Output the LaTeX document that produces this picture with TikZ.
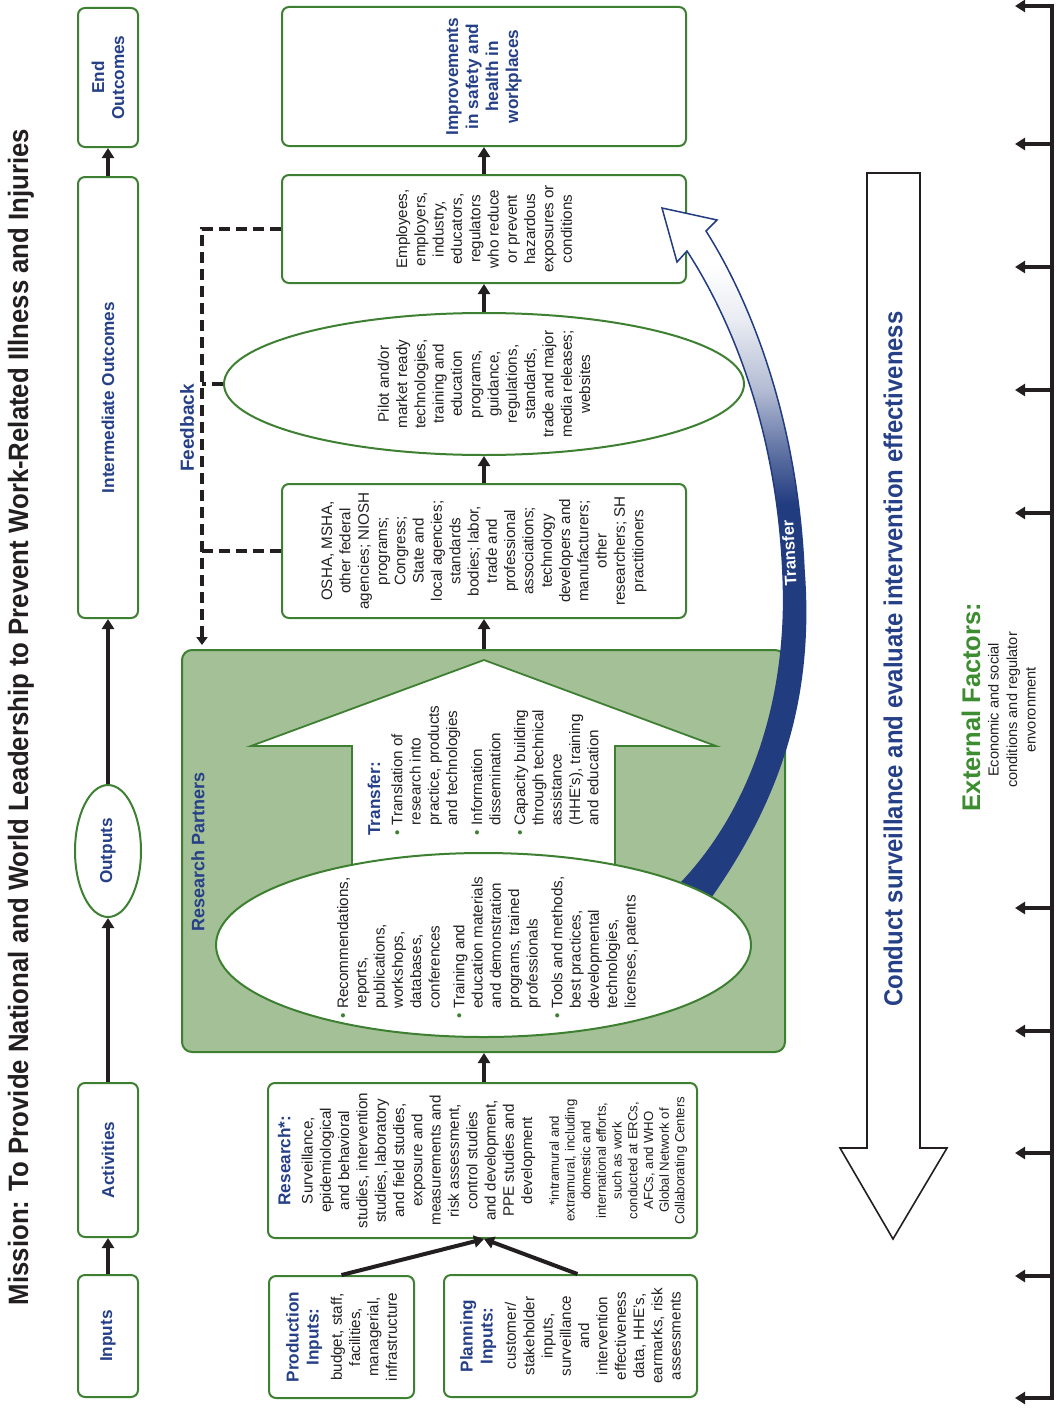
\documentclass[tikz,border=0pt]{standalone}
\usepackage{fontspec}
\setmainfont{Liberation Sans}
\newfontfamily\condfont[FakeStretch=0.92]{Liberation Sans}
\usepackage{graphicx}
\usetikzlibrary{arrows.meta,shapes.geometric}
\definecolor{navy}{RGB}{38,64,136}
\definecolor{bgreen}{RGB}{62,128,50}
\definecolor{rpfill}{RGB}{164,192,150}
\definecolor{extgreen}{RGB}{60,140,48}
\definecolor{ink}{RGB}{35,31,32}
\definecolor{arrowblue}{RGB}{34,60,128}
\colorlet{abA}{arrowblue!70!white}
\colorlet{abB}{arrowblue!35!white}
\colorlet{abC}{arrowblue!10!white}
\newcommand{\bodyf}{\fontsize{15.2}{18.3}\selectfont\mdseries\color{ink}}
\newcommand{\headf}{\fontsize{17.2}{20}\selectfont\bfseries\color{navy}}
\newcommand{\footf}{\fontsize{13.2}{15.7}\selectfont\mdseries\color{ink}}
\newcommand{\vtext}[2]{\rotatebox{90}{\parbox{#1}{\centering #2}}}
\newcommand{\bul}{{\color{bgreen}\textbullet}}
\pgfdeclareverticalshading{transfershade}{100bp}{color(0bp)=(arrowblue); color(54bp)=(arrowblue); color(58bp)=(abA); color(62bp)=(abB); color(67bp)=(abC); color(71bp)=(white); color(100bp)=(white)}
\begin{document}
\begin{tikzpicture}[x=1pt, y=-1pt,
 box/.style={draw=bgreen, line width=2pt, rounded corners=7pt, fill=white, inner sep=0pt},
 ell/.style={ellipse, draw=bgreen, line width=2pt, fill=white, inner sep=0pt},
 flow/.style={line width=4pt, draw=ink, -{Triangle[length=10pt,width=12pt]}},
 fb/.style={line width=3.5pt, draw=ink, dash pattern=on 11pt off 6pt},
 tickarrow/.style={line width=4pt, draw=ink, -{Triangle[length=10pt,width=12pt]}},
 lbl/.style={rotate=90, inner sep=0pt, text=navy, font=\bfseries\fontsize{18}{21}\selectfont},
]
\useasboundingbox (0,0) rectangle (1057,1410);
\fill[white] (0,0) rectangle (1057,1410);

% title
\node[rotate=90, inner sep=0pt, text=ink, font=\condfont\bfseries\fontsize{28}{30}\selectfont] (title) at (21,717)
 {Mission: To Provide National and World Leadership to Prevent Work-Related Illness and Injuries};

% left column
\node[box, minimum width=60pt, minimum height=122pt] (inputs) at (108,1336) {\vtext{110pt}{\headf Inputs}};
\node[box, minimum width=60pt, minimum height=154pt] (activities) at (108,1160) {\vtext{130pt}{\headf Activities}};
\node[ell, minimum width=66pt, minimum height=132pt] (outputs) at (108,851) {\vtext{66pt}{\headf Outputs}};
\node[box, minimum width=60pt, minimum height=441pt] (inter) at (108,397.5) {\vtext{300pt}{\headf Intermediate Outcomes}};
\node[box, minimum width=60pt, minimum height=139pt] (endout) at (108,77.5) {\vtext{120pt}{\headf End\\Outcomes}};
\draw[flow] (inputs.north) -- (activities.south);
\draw[flow] (activities.north) -- (outputs.south);
\draw[flow] (outputs.north) -- (inter.south);
\draw[flow] (inter.north) -- (endout.south);

% input boxes
\node[box, minimum width=145pt, minimum height=122pt] (prod) at (341.5,1337)
 {\vtext{115pt}{\headf Production\\Inputs:\par\vspace{5pt}\bodyf budget, staff,\\facilities,\\managerial,\\infrastructure}};
\node[box, minimum width=253pt, minimum height=122pt] (plan) at (570.5,1336)
 {\vtext{115pt}{\headf Planning\\Inputs:\par\vspace{5pt}\bodyf customer/\\stakeholder\\inputs,\\surveillance\\and\\intervention\\effectiveness\\data, HHE’s,\\earmarks, risk\\assessments}};
\node[box, minimum width=429pt, minimum height=155pt] (research) at (482.5,1160.5)
 {\vtext{150pt}{\headf Research*:\par\vspace{4pt}\bodyf Surveillance,\\epidemiological\\and behavioral\\studies, intervention\\studies, laboratory\\and field studies,\\exposure and\\measurements and\\risk assessment,\\control studies\\and development,\\PPE studies and\\development\par\vspace{11pt}\footf *intramural and\\extramural, including\\domestic and\\international efforts,\\such as work\\conducted at ERCs,\\AFCs, and WHO\\Global Network of\\Collaborating Centers}};
\coordinate (pjoin) at ([xshift=1.5pt]research.south);
\draw[flow] (prod.north) -- (pjoin);
\draw[flow] ([xshift=7pt]plan.north) -- (pjoin);

% upper boxes
\node[box, minimum width=404pt, minimum height=139pt] (impr) at (484,76.5)
 {\vtext{125pt}{\headf Improvements\\in safety and\\health in\\workplaces}};
\node[box, minimum width=404pt, minimum height=108pt] (emp) at (484,229)
 {\vtext{105pt}{\bodyf Employees,\\employers,\\industry,\\educators,\\regulators\\who reduce\\or prevent\\hazardous\\exposures or\\conditions}};
\node[ell, minimum width=520pt, minimum height=142pt] (pilot) at (484,384) {};
\node[inner sep=0pt] (pilotT) at (pilot.center)
 {\vtext{125pt}{\bodyf Pilot and/or\\market ready\\technologies,\\training and\\education\\programs,\\guidance,\\regulations,\\standards,\\trade and major\\media releases;\\websites}};
\node[box, minimum width=404pt, minimum height=134pt] (osha) at (484,551)
 {\vtext{130pt}{\bodyf OSHA, MSHA,\\other federal\\agencies; NIOSH\\programs;\\Congress;\\State and\\local agencies;\\standards\\bodies; labor,\\trade and\\professional\\associations;\\technology\\developers and\\manufacturers;\\other\\researchers; SH\\practitioners}};
\draw[flow] (osha.north) -- (pilot.south);
\draw[flow] (pilot.north) -- (emp.south);
\draw[flow] (emp.north) -- (impr.south);

% research partners region
\node[draw=bgreen, line width=2pt, fill=rpfill, rounded corners=10pt, minimum width=603pt, minimum height=402pt, inner sep=0pt] (rp) at (483.5,851) {};
\node[lbl] (rpT) at (198,852) {Research Partners};
\coordinate (rtop) at ([xshift=1.5pt]research.north);
\draw[flow] (rtop) -- (rtop |- rp.south);
\draw[flow] (rp.north -| osha.south) -- (osha.south);

% big white transfer arrow
\draw[draw=bgreen, line width=1.8pt, fill=white, line join=miter]
 (352,905) -- (352,746) -- (251,746) -- (484,660) -- (716,746) -- (615,746) -- (615,905);

% blue curved transfer arrow
\shadedraw[shading=transfershade, draw=arrowblue, line width=1.5pt, line join=miter]
 (700,912) -- (713,894) .. controls (785,790) and (813,690) .. (804,570)
 .. controls (798,430) and (756,310) .. (706,231) -- (717,220) -- (662,208) -- (677,262) -- (687,251)
 .. controls (733,322) and (777,432) .. (783,575) .. controls (789,700) and (750,810) .. (682,882)
 -- (665,898) -- cycle;
\node[rotate=93, inner sep=0pt, text=white, font=\bfseries\fontsize{16.5}{18}\selectfont] (trLbl) at (789,553) {Transfer};

% lower ellipse
\node[ell, minimum width=535pt, minimum height=184pt] (outEll) at (483.5,945) {};
\node[rotate=90, anchor=north west, inner sep=0pt, font=\bodyf] (ellT) at (335,1019)
 {\begin{tabular}{@{}l@{\hspace{5pt}}l@{}}
 \bul & Recommendations,\\ & reports,\\ & publications,\\ & workshops,\\ & databases,\\ & conferences\\[6.5pt]
 \bul & Training and\\ & education materials\\ & and demonstration\\ & programs, trained\\ & professionals\\[6.5pt]
 \bul & Tools and methods,\\ & best practices,\\ & developmental\\ & technologies,\\ & licenses, patents
 \end{tabular}};
\node[rotate=90, anchor=north west, inner sep=0pt, font=\bodyf] (trT) at (367,836)
 {\begin{tabular}{@{}l@{\hspace{5pt}}l@{}}
 \multicolumn{2}{@{}l@{}}{\headf Transfer:}\\[4pt]
 \bul & Translation of\\ & research into\\ & practice, products\\ & and technologies\\[6.5pt]
 \bul & Information\\ & dissemination\\[6.5pt]
 \bul & Capacity building\\ & through technical\\ & assistance\\ & (HHE’s), training\\ & and education
 \end{tabular}};

% feedback
\coordinate (fbx) at (202,0);
\coordinate (fbend) at (202,645);
\draw[fb, -{Triangle[length=8pt,width=11pt]}] (emp.west) -- (emp.west -| fbx) -- (fbend);
\draw[fb] (pilot.west) -- (pilot.west -| fbx);
\draw[fb] (osha.west) -- (osha.west -| fbx);
\node[lbl, font=\bfseries\fontsize{19}{21}\selectfont] (fbT) at (187,428) {Feedback};

% conduct surveillance arrow
\draw[draw=ink, line width=1.6pt, fill=white, line join=miter]
 (867,173) -- (920,173) -- (920,1148) -- (947,1148) -- (893,1239) -- (840,1148) -- (867,1148) -- cycle;
\node[rotate=90, inner sep=0pt, text=navy, font=\condfont\bfseries\fontsize{26}{28}\selectfont] (condT) at (893,659)
 {Conduct surveillance and evaluate intervention effectiveness};

% external factors
\node[rotate=90, inner sep=0pt, text=extgreen, font=\bfseries\fontsize{25.5}{28}\selectfont] (extT) at (971,707) {External Factors:};
\node[rotate=90, inner sep=0pt, align=center, text=ink, font=\fontsize{14.6}{18.5}\selectfont] (econT) at (1012,710)
 {Economic and social\\conditions and regulator\\envoronment};

% timeline
\coordinate (tA) at (1015,6);
\coordinate (tB) at (1052,6);
\coordinate (tC) at (1052,1398);
\coordinate (tD) at (1015,1398);
\draw[line width=4pt, draw=ink, line join=miter, {Triangle[length=10pt,width=12pt]}-{Triangle[length=10pt,width=12pt]}] (tA) -- (tB) -- (tC) -- (tD);
\foreach \yy [count=\i] in {144,267,390,513,908,1031,1153,1276} {
 \coordinate (ts\i) at (1052,\yy);
 \coordinate (te\i) at (1015,\yy);
 \draw[tickarrow] (ts\i) -- (te\i);
}
\end{tikzpicture}
\end{document}
